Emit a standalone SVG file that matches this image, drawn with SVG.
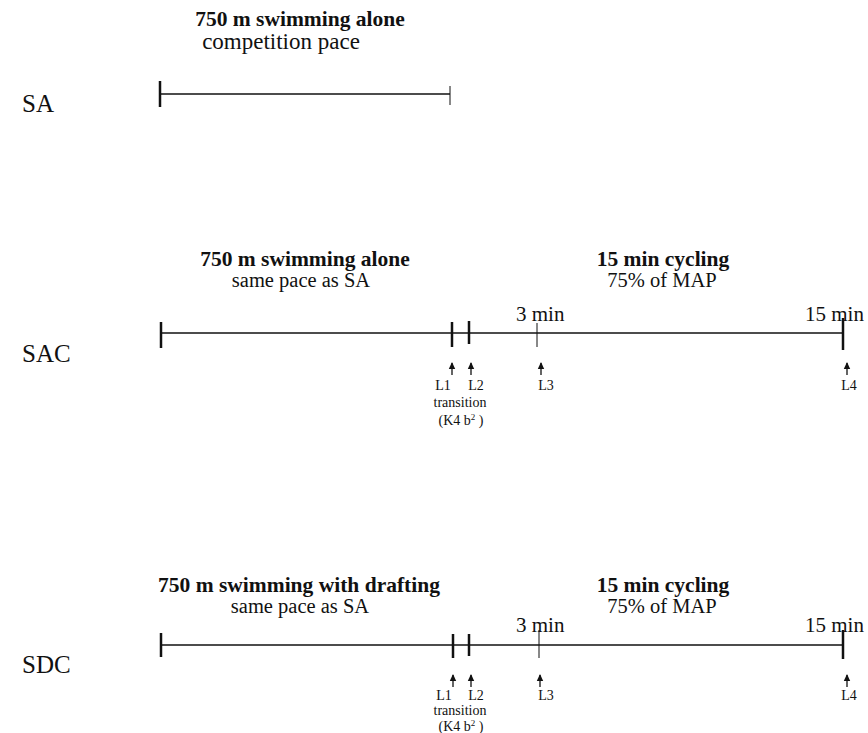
<svg xmlns="http://www.w3.org/2000/svg" width="868" height="733" viewBox="0 0 868 733">
<style>
text{font-family:"Liberation Serif","Times New Roman",serif;fill:#111}
.t{font-size:21.5px;font-weight:bold;text-anchor:middle}
.s{font-size:20.5px;text-anchor:middle}
.lab{font-size:25px}
.m{font-size:21px}
.sm{font-size:14px;text-anchor:middle}
.ln{stroke:#111;stroke-width:1.5;fill:none}
.tk{stroke:#111;stroke-width:2.5;fill:none}
.tn{stroke:#111;stroke-width:1;fill:none}
.arr{stroke:#111;stroke-width:1.3;fill:none;marker-end:url(#ah)}
</style>
<defs>
<marker id="ah" markerUnits="userSpaceOnUse" markerWidth="8" markerHeight="8" viewBox="0 0 8 8" refX="6" refY="4" orient="auto">
<path d="M0,0.8 L7,4 L0,7.2 Z" fill="#111"/>
</marker>
</defs>
<rect width="868" height="733" fill="#fff"/>
<g id="SA">
<text class="lab" x="22" y="112">SA</text>
<text class="t" x="300" y="26">750 m swimming alone</text>
<text class="s" x="281" y="49" style="font-size:23px">competition pace</text>
</g>
<g id="SAC">
<text class="lab" x="22" y="362">SAC</text>
<text class="t" x="305" y="266">750 m swimming alone</text>
<text class="s" x="301" y="287">same pace as SA</text>
<text class="t" x="663" y="266">15 min cycling</text>
<text class="s" x="662" y="287">75% of MAP</text>
<text class="m" x="516" y="321">3 min</text>
<text class="m" x="805" y="321">15 min</text>
<text class="sm" x="443" y="390">L1</text>
<text class="sm" x="476" y="390">L2</text>
<text class="sm" x="546" y="390">L3</text>
<text class="sm" x="849" y="390">L4</text>
<text class="sm" x="460" y="407">transition</text>
<text class="sm" x="461" y="425">(K4 b<tspan font-size="9" dy="-5">2</tspan><tspan dy="5"> )</tspan></text>
</g>
<g id="SDC">
<text class="lab" x="22" y="673">SDC</text>
<text class="t" x="299" y="592">750 m swimming with drafting</text>
<text class="s" x="300" y="613">same pace as SA</text>
<text class="t" x="663" y="592">15 min cycling</text>
<text class="s" x="662" y="613">75% of MAP</text>
<text class="m" x="516" y="632">3 min</text>
<text class="m" x="805" y="632">15 min</text>
<text class="sm" x="444" y="700">L1</text>
<text class="sm" x="476" y="700">L2</text>
<text class="sm" x="546" y="700">L3</text>
<text class="sm" x="849" y="700">L4</text>
<text class="sm" x="460" y="715">transition</text>
<text class="sm" x="461" y="731">(K4 b<tspan font-size="9" dy="-5">2</tspan><tspan dy="5"> )</tspan></text>
</g>
<g id="connectors">
<line class="ln" x1="160" y1="94" x2="450" y2="94"/>
<line class="tk" x1="160" y1="81" x2="160" y2="107"/>
<line class="tn" x1="450" y1="86" x2="450" y2="105"/>
<line class="ln" x1="160" y1="333" x2="843" y2="333"/>
<line class="tk" x1="161" y1="322" x2="161" y2="348"/>
<line class="tk" x1="452" y1="322" x2="452" y2="347"/>
<line class="tk" x1="469" y1="321" x2="469" y2="344"/>
<line class="tn" x1="537" y1="323" x2="537" y2="347"/>
<line class="tk" x1="843" y1="318" x2="843" y2="350"/>
<line class="arr" x1="452" y1="375" x2="452" y2="363"/>
<line class="arr" x1="471" y1="375" x2="471" y2="363"/>
<line class="arr" x1="541" y1="375" x2="541" y2="363"/>
<line class="arr" x1="847" y1="375" x2="847" y2="363"/>
<line class="ln" x1="160" y1="645" x2="843" y2="645"/>
<line class="tk" x1="161" y1="633" x2="161" y2="657"/>
<line class="tk" x1="453" y1="634" x2="453" y2="658"/>
<line class="tk" x1="469" y1="634" x2="469" y2="656"/>
<line class="tn" x1="539" y1="630" x2="539" y2="658"/>
<line class="tk" x1="843" y1="630" x2="843" y2="659"/>
<line class="arr" x1="453" y1="687" x2="453" y2="675"/>
<line class="arr" x1="471" y1="687" x2="471" y2="675"/>
<line class="arr" x1="540" y1="687" x2="540" y2="675"/>
<line class="arr" x1="847" y1="687" x2="847" y2="675"/>
</g>
</svg>
